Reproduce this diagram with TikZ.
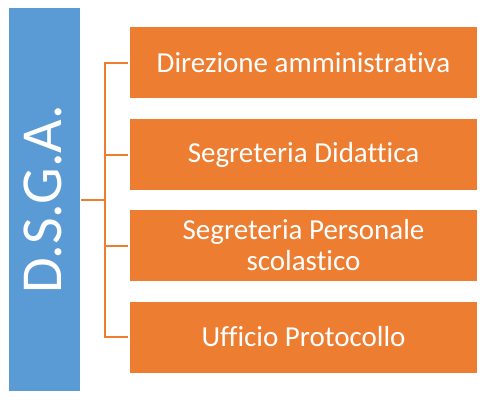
\documentclass[tikz,border=0pt]{standalone}
\usepackage{fontspec}
\setmainfont{Carlito}[Ligatures=NoCommon]
\definecolor{bluebar}{HTML}{5B9BD5}
\definecolor{orangebox}{HTML}{ED7D31}
\begin{document}
\begin{tikzpicture}[x=1pt,y=-1pt,
  unit/.style={fill=orangebox,draw=none,minimum width=347pt,minimum height=71pt,inner sep=0pt,
    text=white,font=\fontsize{29}{31}\selectfont,align=center},
  conn/.style={draw=orangebox,line width=2pt}]
\useasboundingbox (0,0) rectangle (487,402);
\node[fill=bluebar,minimum width=71pt,minimum height=383pt,inner sep=0pt] (bar) at (44.5,199.5) {};
\node[rotate=90,text=white,font=\fontsize{58}{60}\selectfont,inner sep=0pt] (title) at (43,199) {D.S.G.A.};
\node[unit] (b1) at (303.5,62.5) {Direzione amministrativa};
\node[unit] (b2) at (303.5,154.5) {Segreteria Didattica};
\node[unit] (b3) at (303.5,245.5) {Segreteria Personale\\scolastico};
\node[unit] (b4) at (303.5,337) {Ufficio Protocollo};
\draw[conn] ([xshift=-2]b1.west) -- ++(-23,0) |- ([xshift=-2]b4.west);
\draw[conn] ([xshift=-2]b2.west) -- ++(-23,0);
\draw[conn] ([xshift=-2]b3.west) -- ++(-23,0);
\draw[conn] ([xshift=1]bar.east) -- ++(24,0);
\end{tikzpicture}
\end{document}
